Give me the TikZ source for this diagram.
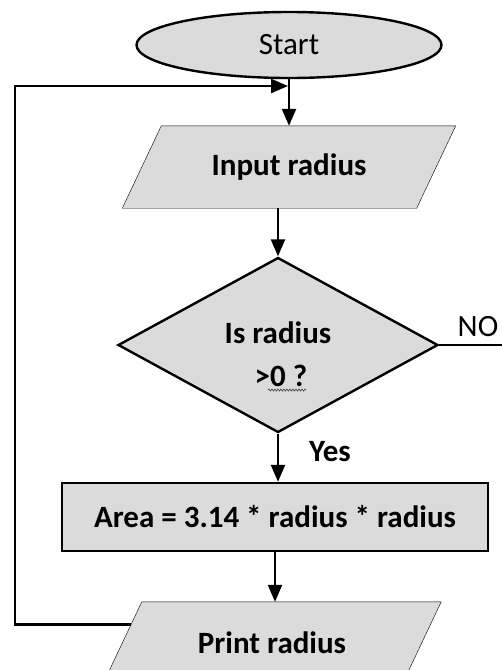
\documentclass[tikz,border=0pt]{standalone}
\usepackage{fontspec}
\setmainfont{Carlito}
\usetikzlibrary{shapes.geometric,arrows.meta,calc,backgrounds,decorations.pathmorphing}
\begin{document}
\begin{tikzpicture}[x=1pt,y=-1pt,line width=2.4pt,
  boxfill/.style={fill=black!14},
  bigfont/.style={font=\fontsize{31}{37}\selectfont},
  txt/.style={font=\fontsize{31}{37}\selectfont\bfseries},
  arr/.style={-{Triangle[length=17pt,width=14pt]}}]
\useasboundingbox (0,0) rectangle (502,670);
\clip (0,0) rectangle (502,670);
% nodes
\node[ellipse,draw,boxfill,minimum width=305pt,minimum height=66pt,inner sep=0,bigfont] (start) at (289,45) {Start};
\node[minimum width=292pt,minimum height=80pt,inner sep=0,txt] (in) at (289,167) {Input radius};
\node[diamond,draw,boxfill,minimum width=320pt,minimum height=175pt,inner sep=0] (dia) at (278,345) {};
\node[txt,inner sep=0] (diat) at (278,333) {Is radius};
\node[txt,inner sep=0] (diat2) at (281,376) {>0 ?};
\node[draw,boxfill,minimum width=426pt,minimum height=68pt,inner sep=0,txt] (area) at (275,517) {Area = 3.14 * radius * radius};
\node[minimum width=297pt,minimum height=80pt,inner sep=0,txt] (pr) at (272,643) {Print radius};
\node[bigfont,inner sep=0] (no) at (478,327) {NO};
\node[txt,inner sep=0] (yes) at (330,452) {Yes};
% parallelograms behind texts
\begin{scope}[on background layer]
\draw[boxfill] ([xshift=19.5pt]in.north west) -- ([xshift=19.5pt]in.north east) -- ([xshift=-19.5pt]in.south east) -- ([xshift=-19.5pt]in.south west) -- cycle;
\draw[boxfill] ([xshift=19.5pt]pr.north west) -- ([xshift=19.5pt]pr.north east) -- ([xshift=-19.5pt]pr.south east) -- ([xshift=-19.5pt]pr.south west) -- cycle;
\end{scope}
\coordinate (prtl) at ([xshift=19.5pt]pr.north west);
\coordinate (prbl) at ([xshift=-19.5pt]pr.south west);
\coordinate (ploop) at ($(prtl)!0.275!(prbl)$);
\coordinate (lt) at (15,86);
\coordinate (noend) at (505,345);
% connectors
\draw[arr] (start.south) -- (in.north);
\draw[arr] (ploop) -| (lt) -- ([xshift=-1pt]start.south |- lt);
\draw[arr] (in.south -| dia.north) -- (dia.north);
\draw (dia.east) -- (noend);
\draw[arr] (dia.south) -- (dia.south |- area.north);
\draw[arr] (area.south) -- (area.south |- pr.north);
% spell-check squiggle
\draw[line width=0.7pt,black!70,decorate,decoration={snake,amplitude=1pt,segment length=3pt}] (268,390) -- (306,390);
\end{tikzpicture}
\end{document}
